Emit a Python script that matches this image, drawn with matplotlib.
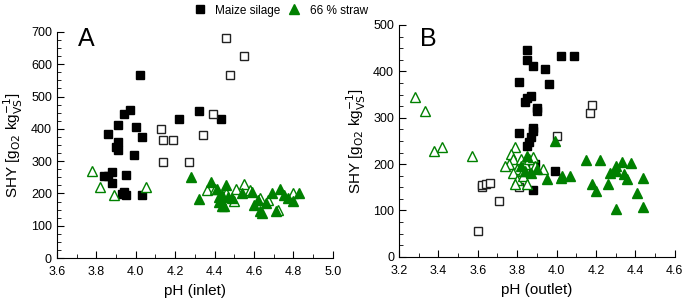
import matplotlib
matplotlib.use("Agg")
import matplotlib.pyplot as plt
from matplotlib.ticker import MultipleLocator

plt.rcParams['font.family'] = ['Liberation Sans', 'DejaVu Sans']

green = '#008000'

# panel A: pH (inlet)
a_maize_x = [4.02, 3.97, 3.94, 4.32, 4.22, 4.43, 3.91, 4.00, 3.86, 4.03, 3.91, 3.90, 3.91,
             3.99, 3.88, 3.84, 3.86, 3.95, 3.88, 3.94, 3.93, 3.95, 4.03]
a_maize_y = [567, 457, 447, 455, 432, 432, 413, 405, 385, 375, 360, 345, 335,
             318, 268, 255, 255, 257, 232, 205, 198, 196, 196]
a_maize_open_x = [4.46, 4.55, 4.48, 4.39, 4.13, 4.34, 4.14, 4.19, 4.14, 4.27]
a_maize_open_y = [680, 625, 567, 445, 398, 380, 365, 366, 296, 296]
a_straw_x = [4.28, 4.32, 4.38, 4.41, 4.42, 4.43, 4.44, 4.45, 4.46, 4.47, 4.49, 4.54, 4.59,
             4.60, 4.62, 4.63, 4.64, 4.66, 4.69, 4.71, 4.73, 4.75, 4.77, 4.80, 4.83, 4.44, 4.42]
a_straw_y = [252, 183, 237, 215, 190, 180, 195, 160, 225, 190, 185, 200, 205,
             165, 180, 145, 140, 170, 200, 145, 213, 195, 185, 178, 202, 160, 175]
a_straw_open_x = [3.78, 3.82, 3.89, 4.05, 4.36, 4.55, 4.46, 4.51, 4.50, 4.58, 4.63, 4.67,
                  4.72, 4.80, 4.40]
a_straw_open_y = [270, 220, 195, 220, 210, 228, 200, 215, 178, 210, 185, 180,
                  150, 200, 215]

# panel B: pH (outlet)
b_maize_x = [3.85, 3.85, 3.88, 3.94, 4.02, 4.09, 3.81, 3.96, 3.87, 3.85, 3.84, 3.90, 3.90,
             3.81, 3.88, 3.88, 3.87, 3.86, 3.85, 3.99, 3.88, 3.89]
b_maize_y = [445, 425, 412, 406, 433, 432, 378, 372, 347, 342, 333, 322, 315,
             268, 278, 272, 258, 248, 238, 185, 145, 200]
b_maize_open_x = [3.60, 3.71, 3.62, 3.62, 3.64, 3.66, 3.81, 4.00, 4.17, 4.18, 3.88]
b_maize_open_y = [55, 120, 150, 155, 157, 160, 150, 260, 310, 328, 192]
b_straw_x = [3.99, 3.82, 3.85, 3.84, 3.87, 3.90, 3.95, 4.02, 4.03, 4.07, 4.15, 4.22, 4.18,
             4.20, 4.26, 4.27, 4.30, 4.30, 4.33, 4.34, 4.36, 4.38, 4.30, 4.41, 4.44, 4.44]
b_straw_y = [250, 195, 218, 185, 180, 190, 168, 170, 175, 175, 208, 208, 157,
             142, 158, 180, 195, 185, 205, 178, 168, 202, 103, 137, 170, 108]
b_straw_open_x = [3.28, 3.33, 3.38, 3.42, 3.57, 3.79, 3.77, 3.78, 3.76, 3.74, 3.80, 3.82,
                  3.84, 3.86, 3.88, 3.78, 3.80, 3.83, 3.85, 3.79, 3.89, 3.93, 3.83]
b_straw_open_y = [345, 315, 228, 237, 218, 237, 222, 212, 200, 195, 190, 210,
                  200, 210, 215, 180, 165, 175, 158, 157, 195, 190, 185]

fig = plt.figure(figsize=(6.85, 3.04), dpi=100)
axA = fig.add_axes([0.083, 0.151, 0.403, 0.744])
axB = fig.add_axes([0.5825, 0.155, 0.4025, 0.763])


def draw(ax, mx, my, mox, moy, sx, sy, sox, soy):
    ax.plot(mx, my, 's', color='black', ms=6, ls='none')
    ax.plot(mox, moy, 's', mfc='white', mec='#222222', mew=1, ms=6, ls='none')
    ax.plot(sox, soy, '^', mfc='white', mec=green, mew=1, ms=7, ls='none')
    ax.plot(sx, sy, '^', color=green, ms=7, ls='none')
    for s in ['top', 'right']:
        ax.spines[s].set_visible(False)
    ax.tick_params(which='both', direction='in', labelsize=9)
    ax.tick_params(which='major', length=5)
    ax.tick_params(which='minor', length=3)
    ax.tick_params(axis='x', which='major', pad=6)
    ax.set_ylabel('SHY [g$_{\\mathrm{O2}}$ kg$_{\\mathrm{VS}}^{-1}$]', fontsize=11)


draw(axA, a_maize_x, a_maize_y, a_maize_open_x, a_maize_open_y,
     a_straw_x, a_straw_y, a_straw_open_x, a_straw_open_y)
axA.set_xlim(3.6, 5.0)
axA.set_ylim(0, 700)
axA.xaxis.set_major_locator(MultipleLocator(0.2))
axA.xaxis.set_minor_locator(MultipleLocator(0.1))
axA.yaxis.set_major_locator(MultipleLocator(100))
axA.yaxis.set_minor_locator(MultipleLocator(25))
axA.set_xticklabels([f'{v:.1f}' for v in axA.get_xticks()])
axA.set_xlabel('pH (inlet)', fontsize=11)
axA.text(0.075, 1.02, 'A', transform=axA.transAxes, fontsize=18, va='top')

draw(axB, b_maize_x, b_maize_y, b_maize_open_x, b_maize_open_y,
     b_straw_x, b_straw_y, b_straw_open_x, b_straw_open_y)
axB.set_xlim(3.2, 4.6)
axB.set_ylim(0, 500)
axB.xaxis.set_major_locator(MultipleLocator(0.2))
axB.xaxis.set_minor_locator(MultipleLocator(0.1))
axB.yaxis.set_major_locator(MultipleLocator(100))
axB.yaxis.set_minor_locator(MultipleLocator(25))
axB.set_xticklabels([f'{v:.1f}' for v in axB.get_xticks()])
axB.set_xlabel('pH (outlet)', fontsize=11)
axB.text(0.075, 0.99, 'B', transform=axB.transAxes, fontsize=18, va='top')

h1, = axA.plot([], [], 's', color='black', ms=6)
h2, = axA.plot([], [], '^', color=green, ms=7)
fig.legend([h1, h2], ['Maize silage', '66 % straw'], loc='upper center',
           bbox_to_anchor=(0.41, 1.02), ncol=2, frameon=False, fontsize=8.5,
           handlelength=1.0, handletextpad=0.8, columnspacing=0.7)

fig.savefig('out.png', dpi=100)
